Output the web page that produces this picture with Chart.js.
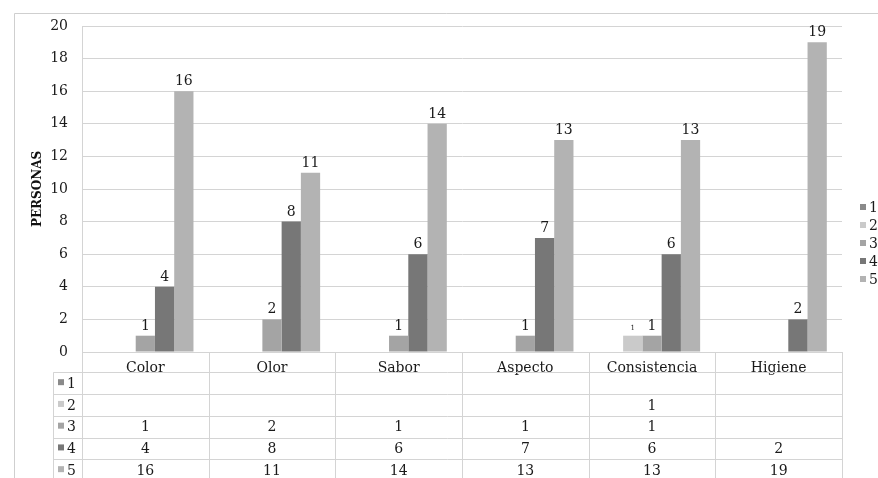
<!DOCTYPE html>
<html>
<head>
<meta charset="utf-8">
<script src="https://cdn.jsdelivr.net/npm/chart.js@4.4.0/dist/chart.umd.min.js"></script>
<style>
html, body { margin: 0; padding: 0; background: #fff; }
#wrap { position: relative; width: 878px; height: 478px; }
</style>
</head>
<body>
<div id="wrap"><canvas id="barChart"></canvas></div>
<script>
const categories = ['Color', 'Olor', 'Sabor', 'Aspecto', 'Consistencia', 'Higiene'];
const seriesNames = ['1', '2', '3', '4', '5'];
const serie1 = [null, null, null, null, null, null];
const serie2 = [null, null, null, null, 1, null];
const serie3 = [1, 2, 1, 1, 1, null];
const serie4 = [4, 8, 6, 7, 6, 2];
const serie5 = [16, 11, 14, 13, 13, 19];
const yMax = 20;
const yStep = 2;

const series = [serie1, serie2, serie3, serie4, serie5];
const colors = ['#8a8a8a', '#cacaca', '#a4a4a4', '#777777', '#b3b3b3'];
const serif = "'DejaVu Serif', serif";
const lineGray = '#d4d4d4';

Chart.defaults.font.family = serif;
Chart.defaults.font.size = 14;
Chart.defaults.color = '#1a1a1a';

// frame, data table under the axis, legend at the right and value labels
const extras = {
    id: 'extras',
    afterDatasetsDraw(chart) {
        const ctx = chart.ctx;
        ctx.save();
        ctx.textAlign = 'center';
        ctx.textBaseline = 'alphabetic';
        ctx.fillStyle = '#1a1a1a';
        chart.data.datasets.forEach((ds, i) => {
            const meta = chart.getDatasetMeta(i);
            ctx.font = (i === 1 ? '7px ' : '14px ') + serif;
            meta.data.forEach((bar, j) => {
                const v = ds.data[j];
                if (v === null) return;
                ctx.fillText(String(v), bar.x, bar.y - 6);
            });
        });
        ctx.restore();
    },
    afterDraw(chart) {
        const ctx = chart.ctx;
        const area = chart.chartArea;
        const x = chart.scales.x;
        const step = x.getPixelForValue(1) - x.getPixelForValue(0);
        const H = chart.height;
        const W = chart.width;
        ctx.save();
        ctx.lineWidth = 1;

        // outer frame
        ctx.strokeStyle = '#cfcfcf';
        ctx.beginPath();
        ctx.moveTo(14.5, H);
        ctx.lineTo(14.5, 13.5);
        ctx.lineTo(W, 13.5);
        ctx.stroke();

        // table grid
        const headerH = 20.3;
        const rowH = 21.75;
        const tableLeft = 53.5;
        const rowTop = r => area.bottom + headerH + r * rowH;
        ctx.strokeStyle = lineGray;
        ctx.beginPath();
        for (let i = 0; i <= categories.length; i++) {
            const px = Math.round(area.left + i * step) + 0.5;
            ctx.moveTo(px, area.bottom);
            ctx.lineTo(px, H);
        }
        ctx.moveTo(tableLeft, rowTop(0));
        ctx.lineTo(tableLeft, H);
        for (let r = 0; r < series.length; r++) {
            const py = Math.round(rowTop(r)) + 0.5;
            ctx.moveTo(tableLeft, py);
            ctx.lineTo(area.right, py);
        }
        ctx.stroke();

        // table rows
        ctx.font = '14px ' + serif;
        ctx.textBaseline = 'middle';
        series.forEach((vals, r) => {
            const cy = rowTop(r) + rowH / 2 + 1;
            ctx.fillStyle = colors[r];
            ctx.fillRect(58, cy - 5, 6, 6);
            ctx.fillStyle = '#1a1a1a';
            ctx.textAlign = 'left';
            ctx.fillText(seriesNames[r], 67, cy);
            ctx.textAlign = 'center';
            vals.forEach((v, j) => {
                if (v === null) return;
                ctx.fillText(String(v), x.getPixelForValue(j), cy);
            });
        });

        // legend
        seriesNames.forEach((name, r) => {
            const cy = 208 + r * 18;
            ctx.fillStyle = colors[r];
            ctx.fillRect(860, cy - 4, 6, 6);
            ctx.fillStyle = '#1a1a1a';
            ctx.textAlign = 'left';
            ctx.fillText(name, 869, cy);
        });
        ctx.restore();
    }
};

const ctx = document.getElementById('barChart');
new Chart(ctx, {
    type: 'bar',
    data: {
        labels: categories,
        datasets: seriesNames.map((name, i) => ({
            label: name,
            data: series[i],
            backgroundColor: colors[i],
            categoryPercentage: 0.76,
            barPercentage: 1
        }))
    },
    options: {
        responsive: true,
        maintainAspectRatio: false,
        animation: false,
        layout: { padding: { top: 26, right: 36, bottom: 96, left: 0 } },
        plugins: {
            legend: { display: false },
            tooltip: { enabled: false }
        },
        scales: {
            x: {
                grid: { display: false },
                border: { color: lineGray },
                ticks: { padding: 0, maxRotation: 0 },
                afterFit: s => { s.height = 30; }
            },
            y: {
                min: 0,
                max: yMax,
                ticks: { stepSize: yStep, padding: 14 },
                grid: { color: lineGray, drawTicks: false },
                border: { color: lineGray },
                title: {
                    display: true,
                    text: 'PERSONAS',
                    font: { size: 12, weight: 'bold', family: serif },
                    color: '#111',
                    padding: { top: 31, bottom: 0 }
                },
                afterFit: s => { s.width = 82; }
            }
        }
    },
    plugins: [extras]
});
</script>
</body>
</html>
